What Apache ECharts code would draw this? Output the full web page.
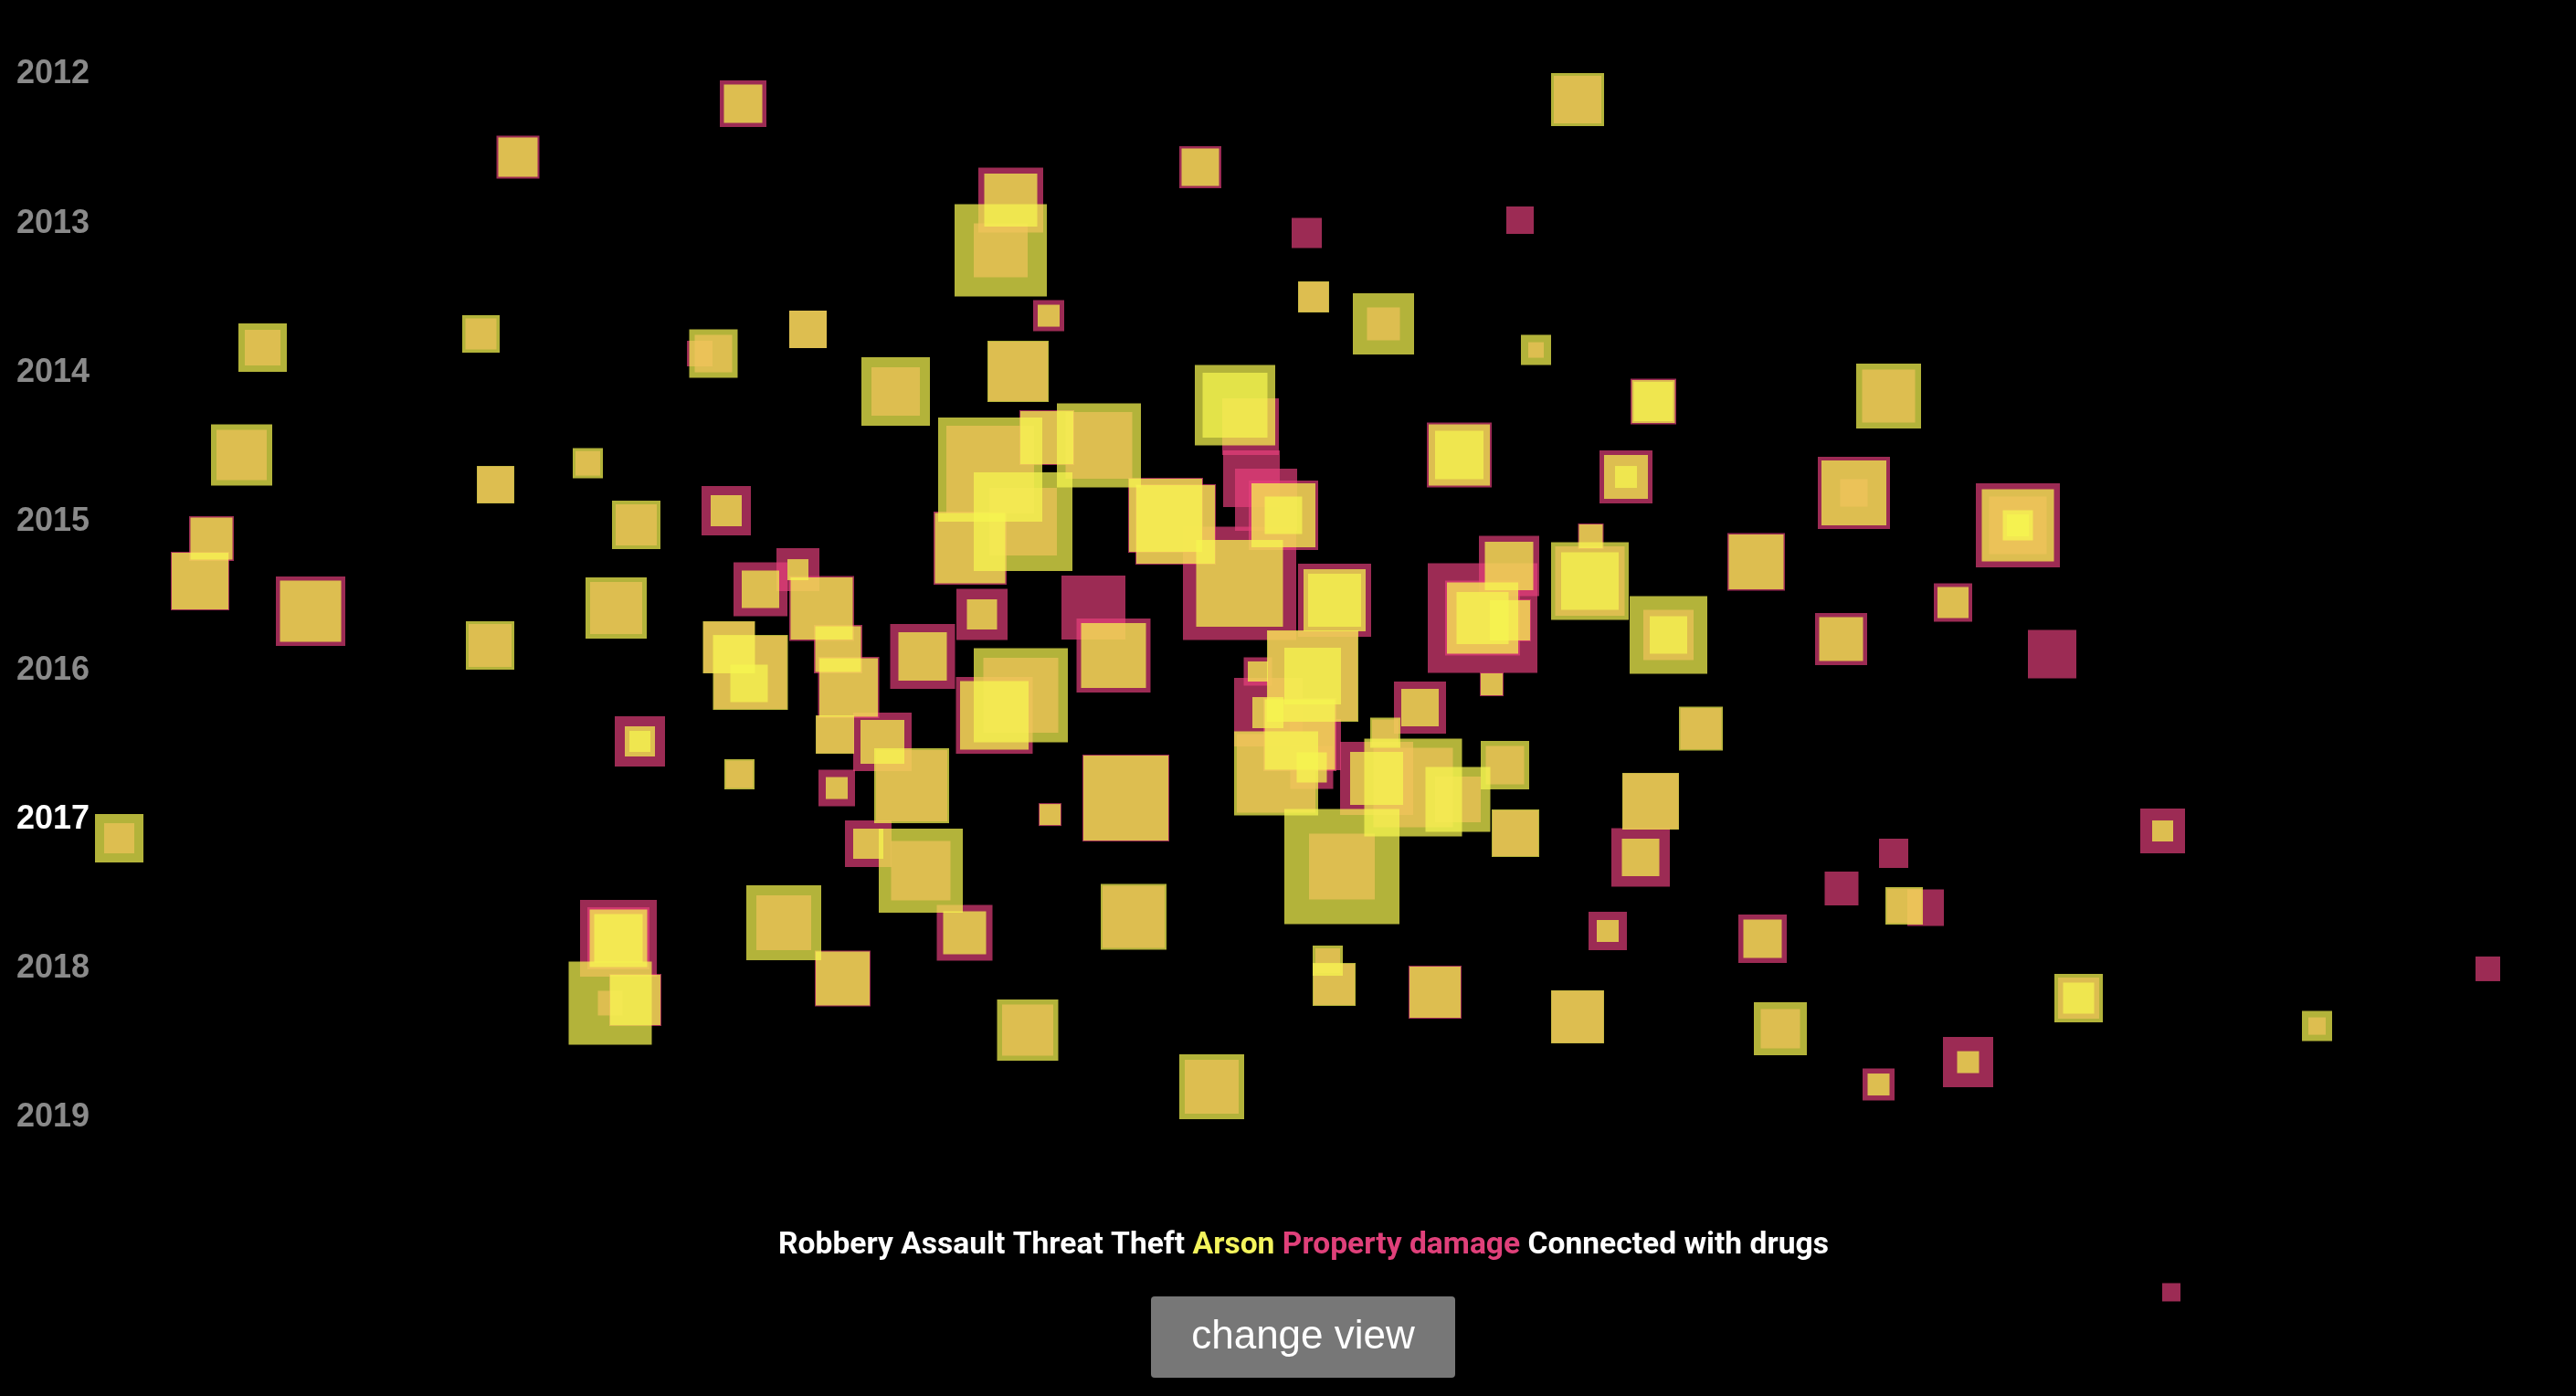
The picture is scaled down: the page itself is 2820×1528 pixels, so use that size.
<!DOCTYPE html>
<html>
<head>
<meta charset="utf-8">
<script src="https://cdn.jsdelivr.net/npm/echarts/dist/echarts.min.js"></script>
<style>
html,body{margin:0;padding:0;background:#000;}
#chart{width:2820px;height:1528px;}
</style>
</head>
<body>
<div id="chart"></div>
<script>
// ---- data ----
const yearTicks = [2012, 2013, 2014, 2015, 2016, 2017, 2018, 2019];
const highlightYear = 2017;
const legendNames = ['Robbery', 'Assault', 'Threat', 'Theft', 'Arson', 'Property damage', 'Connected with drugs'];
const buttonLabel = 'change view';

// [position, year, size]
const propertyDamage = [
[813.5,2012.218,51],[567,2012.576,47],[287.5,2013.854,39],[526.5,2013.762,34],[781,2013.894,41],
[766,2013.894,28],[884.5,2013.732,41],[980.5,2014.149,53],[264.5,2014.574,55],[542.5,2014.774,40],
[643.5,2014.630,27],[696.5,2015.043,45],[795,2014.948,54],[231.5,2015.135,49],[219,2015.420,64],
[340,2015.623,76],[536.5,2015.853,47],[674.5,2015.601,57],[700.5,2016.496,55],[130.5,2017.146,33],
[677,2017.817,84],[677,2017.817,68],[668,2018.252,27],[695.5,2018.231,57],[1314,2012.644,46],
[1106.5,2012.864,71],[1095.5,2013.201,59],[1430.5,2013.085,33],[1664,2012.999,30],[1148,2013.640,34],
[1438,2013.514,33],[1514.5,2013.695,36],[1681.5,2013.870,17],[1114.5,2014.014,65],[1084,2014.673,96],
[1120,2015.022,74],[1146,2014.458,60],[1203,2014.510,73],[1062,2015.200,80],[1369,2014.384,62],
[1370,2014.734,62],[1386,2014.875,68],[1405,2014.979,76],[1357,2015.436,124],[1276,2014.979,82],
[1287,2015.040,88],[1197,2015.598,70],[1075,2015.644,56],[1219,2015.920,81],[1117.5,2016.187,82],
[1088.5,2016.321,84],[1461,2015.549,80],[1623,2015.669,120],[1623,2015.669,82],[1652,2015.319,66],
[1653,2015.684,46],[1633,2016.113,26],[1554.5,2016.269,57],[1437,2016.058,98],[1377,2016.027,31],
[1388.5,2016.300,75],[1440,2016.518,56],[1423,2016.450,80],[1436,2016.671,47],[1397,2016.711,86],
[1469,2017.336,72],[1507,2016.744,80],[1547,2016.806,87],[1516.5,2016.438,29],[1596,2016.885,50],
[1647.5,2016.656,42],[1659,2017.112,50],[1453.5,2017.967,27],[1460.5,2018.127,45],[1571,2018.179,58],
[1727,2018.344,57],[1241,2017.673,68],[1760,2017.768,42],[1326.5,2018.813,59],[832.5,2015.476,59],
[873.5,2015.344,47],[899.5,2015.604,71],[917.5,2015.877,53],[929,2016.134,67],[798,2015.865,56],
[821.5,2016.033,80],[1010,2015.926,71],[914,2016.450,41],[966,2016.499,64],[998,2016.793,78],
[809.5,2016.717,30],[916,2016.809,40],[950.5,2017.183,51],[1008,2017.364,65],[1149.5,2016.987,25],
[1232.5,2016.876,95],[1056,2017.780,61],[858,2017.713,60],[922.5,2018.087,61],[1125,2018.433,56],
[1727,2012.190,52],[1810,2014.216,50],[2067.5,2014.179,58],[1780,2014.722,58],[2029.5,2014.829,79],
[2029.5,2014.829,30],[2209,2015.047,92],[2209,2015.047,63],[1741.5,2015.120,28],[1740.5,2015.420,76],
[1826.5,2015.782,55],[1922.5,2015.292,63],[2015.5,2015.810,57],[2138,2015.564,42],[2246.5,2015.911,53],
[1862,2016.410,45],[1807,2016.898,61],[1796,2017.275,64],[1929.5,2017.820,53],[1949,2018.424,43],
[2073,2017.247,32],[2016,2017.483,37],[2084.5,2017.600,38],[2108,2017.612,40],[2154.5,2018.648,55],
[2056.5,2018.798,35],[2367.5,2017.097,49],[2275.5,2018.219,45],[2723.5,2018.022,27],[2536.5,2018.406,19],
[2377,2020.192,20],[1597.5,2014.574,71]
];

const arson = [
[813.5,2012.218,42],[567,2012.576,43],[287.5,2013.854,53],[526.5,2013.762,41],[781,2013.894,53],
[884.5,2013.732,41],[980.5,2014.149,75],[264.5,2014.574,67],[542.5,2014.774,41],[643.5,2014.630,33],
[696.5,2015.043,53],[795,2014.948,34],[231.5,2015.135,46],[219,2015.420,62],[340,2015.623,67],
[536.5,2015.853,53],[674.5,2015.601,67],[700.5,2016.496,33],[700.5,2016.496,23],[130.5,2017.146,53],
[677,2017.817,63],[677,2017.817,53],[668,2018.252,91],[695.5,2018.231,55],[1314,2012.644,41],
[1106.5,2012.864,58],[1095.5,2013.201,101],[1148,2013.640,24],[1438,2013.514,34],[1514.5,2013.695,67],
[1681.5,2013.870,33],[1114.5,2014.014,67],[1084,2014.673,114],[1120,2015.022,108],[1146,2014.458,58],
[1203,2014.510,92],[1062,2015.200,77],[1352,2014.240,88],[1352,2014.240,71],[1405,2014.979,70],
[1405,2014.979,41],[1357,2015.436,95],[1276,2014.979,80],[1287,2015.040,86],[1075,2015.644,33],
[1219,2015.920,71],[1117.5,2016.187,103],[1088.5,2016.321,75],[1461,2015.549,68],[1461,2015.549,58],
[1623,2015.669,78],[1623,2015.669,57],[1652,2015.319,53],[1653,2015.684,44],[1633,2016.113,24],
[1554.5,2016.269,41],[1437,2016.058,100],[1437,2016.058,62],[1377,2016.027,22],[1388,2016.303,34],
[1423,2016.450,77],[1436,2016.671,33],[1397,2016.711,92],[1469,2017.336,126],[1507,2016.744,58],
[1547,2016.806,107],[1516.5,2016.438,33],[1596,2016.885,71],[1647.5,2016.656,53],[1659,2017.112,52],
[1453.5,2017.967,33],[1460.5,2018.127,47],[1571,2018.179,56],[1727,2018.344,58],[1241,2017.673,72],
[1760,2017.768,24],[1326.5,2018.813,71],[832.5,2015.476,41],[873.5,2015.344,23],[899.5,2015.604,68],
[917.5,2015.877,50],[929,2016.134,64],[798,2015.865,57],[821.5,2016.033,82],[820,2016.107,41],
[1010,2015.926,53],[914,2016.450,42],[966,2016.499,48],[998,2016.793,82],[809.5,2016.717,33],
[916,2016.809,24],[950.5,2017.183,33],[1008,2017.364,92],[1149.5,2016.987,23],[1232.5,2016.876,93],
[1056,2017.780,47],[858,2017.713,82],[922.5,2018.087,59],[1125,2018.433,67],[1727,2012.190,58],
[1810,2014.216,47],[1810,2014.216,43],[2067.5,2014.179,71],[1780,2014.722,48],[1780,2014.722,24],
[2029.5,2014.829,71],[2209,2015.047,79],[2209,2015.047,33],[2209,2015.047,24],[1741.5,2015.120,26],
[1740.5,2015.420,85],[1740.5,2015.420,63],[1826.5,2015.782,85],[1826.5,2015.782,41],[1922.5,2015.292,60],
[2015.5,2015.810,48],[2138,2015.564,34],[1862,2016.410,48],[1807,2016.898,62],[1796,2017.275,41],
[1929.5,2017.820,42],[1949,2018.424,58],[2084.5,2017.600,41],[2154.5,2018.648,24],[2056.5,2018.798,24],
[2367.5,2017.097,23],[2275.5,2018.219,53],[2275.5,2018.219,34],[2536.5,2018.406,33],[1597.5,2014.574,67],
[1597.5,2014.574,53]
];

// ---- styles ----
const typeColors = { 'Arson': '#f5f550', 'Property damage': '#e8407e' };
const legendTextColor = { 'Arson': '#f4f45c', 'Property damage': '#e0407a', 'other': '#ffffff' };
const legendFont = { fontFamily: 'Roboto', fontWeight: 'bold', fontSize: 33.6 };
const yearFont = { fontSize: 36, fontWeight: 'bold', fontFamily: 'Liberation Sans', padding: [7, 0, 0, 0] };

const chart = echarts.init(document.getElementById('chart'), null, { renderer: 'canvas' });

function legendKey(n) { return n === 'Arson' ? 'a' : (n === 'Property damage' ? 'p' : 'w'); }
const richStyles = {
  w: Object.assign({ fill: legendTextColor.other }, legendFont),
  a: Object.assign({ fill: legendTextColor['Arson'] }, legendFont),
  p: Object.assign({ fill: legendTextColor['Property damage'] }, legendFont)
};
const legendRich = legendNames.map(function (n) {
  return '{' + legendKey(n) + '|' + n + '}';
}).join('{w| }');

function squareSeries(name, data, color, opacity) {
  return {
    name: name,
    type: 'scatter',
    data: data,
    symbol: 'rect',
    symbolSize: function (d) { return d[2]; },
    clip: false,
    itemStyle: { color: color, opacity: opacity },
    emphasis: { disabled: true },
    silent: true
  };
}

chart.setOption({
  backgroundColor: '#000000',
  animation: false,
  grid: { left: 0, right: 0, top: 78, bottom: 308, containLabel: false },
  xAxis: { type: 'value', min: 0, max: 2820, show: false },
  yAxis: {
    type: 'value',
    min: yearTicks[0],
    max: yearTicks[yearTicks.length - 1],
    interval: 1,
    inverse: true,
    axisLine: { show: false },
    axisTick: { show: false },
    splitLine: { show: false },
    axisLabel: {
      inside: true,
      margin: 18,
      formatter: function (v) {
        return (Number(v) === highlightYear ? '{hi|' : '{lo|') + String(v) + '}';
      },
      rich: {
        hi: Object.assign({ color: '#ffffff' }, yearFont),
        lo: Object.assign({ color: '#8a8a8a' }, yearFont)
      }
    }
  },
  series: [
    squareSeries('Property damage', propertyDamage, typeColors['Property damage'], 0.67),
    squareSeries('Arson', arson, typeColors['Arson'], 0.73)
  ],
  graphic: [
    {
      type: 'text',
      x: 1427, y: 1364,
      silent: true,
      style: Object.assign({
        text: legendRich,
        rich: richStyles,
        align: 'center',
        verticalAlign: 'middle',
        fill: '#ffffff'
      }, legendFont)
    },
    {
      type: 'group',
      x: 1260, y: 1419,
      children: [
        { type: 'rect', shape: { x: 0, y: 0, width: 333, height: 89, r: 4 }, style: { fill: '#777777' } },
        { type: 'text', x: 166.5, y: 44.5,
          style: { text: buttonLabel, fill: '#ffffff', fontFamily: 'Liberation Sans', fontSize: 44,
                   align: 'center', verticalAlign: 'middle' } }
      ]
    }
  ]
});
</script>
</body>
</html>
